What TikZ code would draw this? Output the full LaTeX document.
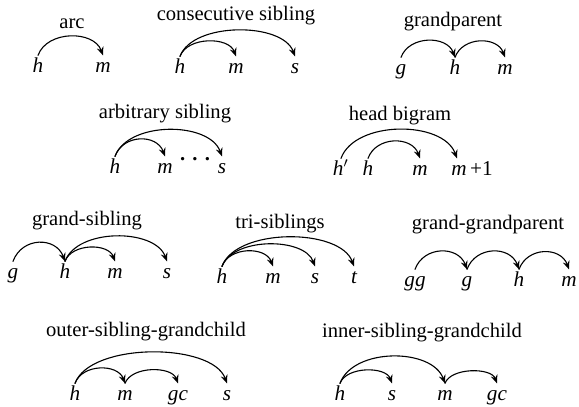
\documentclass[tikz,border=0pt]{standalone}
\usepackage{fontspec}
\setmainfont{Liberation Serif}
\usetikzlibrary{arrows.meta}
\begin{document}
\begin{tikzpicture}[x=0.5pt,y=-0.5pt,>={Stealth[length=4.2pt,width=3.4pt,inset=1.4pt]}, line join=round, line cap=round,
	font=\fontsize{10.3}{12}\selectfont,
	ttl/.style={anchor=base},
	wd/.style={anchor=base, inner sep=1pt, font=\fontsize{10.6}{12}\selectfont\itshape, text height=1.55ex},
	dep/.style={->, line width=0.55pt, out=70, in=110, looseness=#1}, dep/.default=1]
	\useasboundingbox (0,0) rectangle (579,407);
	% arc
	\node[ttl] (t1) at (72,28) {arc};
	\node[wd] (a1) at (38,72) {h};
	\node[wd] (a2) at (103,72) {m};
	\draw[dep=1.06] (a1.north) to (a2.north);
	% consecutive sibling
	\node[ttl] (t2) at (236,20) {consecutive sibling};
	\node[wd] (c1) at (180,73) {h};
	\node[wd] (c2) at (236,73) {m};
	\node[wd] (c3) at (295,73) {s};
	\draw[dep=0.97] (c1.north) to (c2.north);
	\draw[dep=0.82] (c1.north) to (c3.north);
	% grandparent
	\node[ttl] (t3) at (453,26) {grandparent};
	\node[wd] (g1) at (401,74) {g};
	\node[wd] (g2) at (455,74) {h};
	\node[wd] (g3) at (505,74) {m};
	\draw[dep=1.12] (g1.north) to (g2.north);
	\draw[dep=1.16] (g2.north) to (g3.north);
	% arbitrary sibling
	\node[ttl] (t4) at (165,118) {arbitrary sibling};
	\node[wd] (r1) at (115,173) {h};
	\node[wd] (r2) at (165,173) {m};
	\node[anchor=base, inner sep=0pt] (rd) at (195,160) {\bfseries .\hspace{3.6pt}.\hspace{3.6pt}.};
	\node[wd] (r3) at (222,173) {s};
	\draw[dep=1.23] (r1.north) to (r2.north);
	\draw[dep=0.9] (r1.north) to (r3.north);
	% head bigram
	\node[ttl] (t5) at (400,120) {head bigram};
	\node[wd] (b1) at (341,175) {h$'$};
	\node[wd] (b2) at (368,175) {h};
	\node[wd] (b3) at (420,175) {m};
	\node[wd] (b4) at (472,175) {m\,{\upshape +1}};
	\draw[dep=0.9] (b1.north) to ([xshift=-7.5pt]b4.north);
	\draw[dep=1.18] (b2.north) to (b3.north);
	% grand-sibling
	\node[ttl] (t6) at (87,225) {grand-sibling};
	\node[wd] (s1) at (13,278) {g};
	\node[wd] (s2) at (65,278) {h};
	\node[wd] (s3) at (115,278) {m};
	\node[wd] (s4) at (167,278) {s};
	\draw[dep=1.3] (s1.north) to (s2.north);
	\draw[dep=1.0] (s2.north) to (s3.north);
	\draw[dep=0.89] (s2.north) to (s4.north);
	% tri-siblings
	\node[ttl] (t7) at (280,228) {tri-siblings};
	\node[wd] (x1) at (222,283) {h};
	\node[wd] (x2) at (273,283) {m};
	\node[wd] (x3) at (315,283) {s};
	\node[wd] (x4) at (354,283) {t};
	\draw[dep=1.07] (x1.north) to (x2.north);
	\draw[dep=0.86] (x1.north) to (x3.north);
	\draw[dep=0.8] (x1.north) to (x4.north);
	% grand-grandparent
	\node[ttl] (t8) at (488,229) {grand-grandparent};
	\node[wd] (p1) at (415,286) {gg};
	\node[wd] (p2) at (467,286) {g};
	\node[wd] (p3) at (519,286) {h};
	\node[wd] (p4) at (569,286) {m};
	\draw[dep=1.25] (p1.north) to (p2.north);
	\draw[dep=1.25] (p2.north) to (p3.north);
	\draw[dep=1.25] (p3.north) to (p4.north);
	% outer-sibling-grandchild
	\node[ttl] (t9) at (146,336) {outer-sibling-grandchild};
	\node[wd] (o1) at (75,400) {h};
	\node[wd] (o2) at (125,400) {m};
	\node[wd] (o3) at (178,400) {gc};
	\node[wd] (o4) at (227,400) {s};
	\draw[dep=1.08] (o1.north) to (o2.north);
	\draw[dep=0.9] (o2.north) to (o3.north);
	\draw[dep=0.74] (o1.north) to (o4.north);
	% inner-sibling-grandchild
	\node[ttl] (t10) at (422,337) {inner-sibling-grandchild};
	\node[wd] (i1) at (340,400) {h};
	\node[wd] (i2) at (392,400) {s};
	\node[wd] (i3) at (445,400) {m};
	\node[wd] (i4) at (497,400) {gc};
	\draw[dep=0.9] (i1.north) to (i2.north);
	\draw[dep=0.93] (i1.north) to (i3.north);
	\draw[dep=0.84] (i3.north) to (i4.north);
\end{tikzpicture}
\end{document}
